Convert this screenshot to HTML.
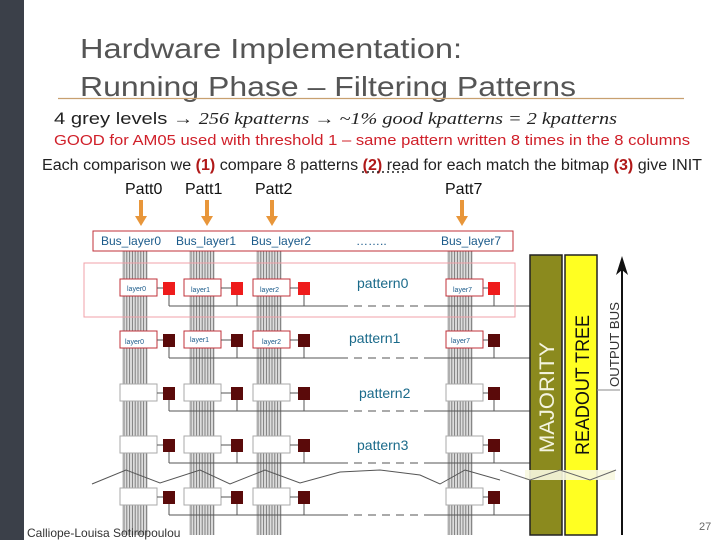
<!DOCTYPE html>
<html><head><meta charset="utf-8"><style>
body{margin:0;background:#fff;}
svg{display:block;font-family:"Liberation Sans",sans-serif;}
</style></head><body>
<svg id="s" width="720" height="540" viewBox="0 0 720 540" xmlns="http://www.w3.org/2000/svg">
<rect x="0" y="0" width="24" height="540" fill="#3b4049"/>
<text x="80" y="58" font-size="28" fill="#555" textLength="382" lengthAdjust="spacingAndGlyphs">Hardware Implementation:</text>
<text x="80" y="96" font-size="28" fill="#555" textLength="496" lengthAdjust="spacingAndGlyphs">Running Phase – Filtering Patterns</text>
<line x1="58" y1="98.5" x2="684" y2="98.5" stroke="#c8a070" stroke-width="1.2"/>
<text x="54" y="124" font-size="17" fill="#222" textLength="563" lengthAdjust="spacingAndGlyphs">4 grey levels → <tspan font-family="Liberation Serif" font-style="italic">256 kpatterns → ~1% good kpatterns = 2 kpatterns</tspan></text>
<text x="54" y="145" font-size="15" fill="#d0202a" textLength="636" lengthAdjust="spacingAndGlyphs">GOOD for  AM05  used with threshold  1 – same pattern  written 8 times in the 8 columns</text>
<text x="42" y="170" font-size="15.5" fill="#222" textLength="660" lengthAdjust="spacingAndGlyphs">Each comparison we <tspan fill="#b01818" font-weight="bold">(1)</tspan> compare 8 patterns  <tspan fill="#b01818" font-weight="bold">(2)</tspan> read for each match the bitmap <tspan fill="#b01818" font-weight="bold">(3)</tspan> give INIT</text>
<line x1="362" y1="172" x2="404" y2="172" stroke="#222" stroke-dasharray="2,3" stroke-width="1.5"/>
<g font-size="16" fill="#111"><text x="125" y="194">Patt0</text><text x="185" y="194">Patt1</text><text x="255" y="194">Patt2</text><text x="445" y="194">Patt7</text></g>
<g id="g"></g>
<rect x="93" y="231" width="420" height="20" fill="none" stroke="#c0303a" stroke-width="1"/>
<g font-size="12" fill="#1a5a8a"><text x="101" y="245">Bus_layer0</text><text x="176" y="245">Bus_layer1</text><text x="251" y="245">Bus_layer2</text><text x="356" y="245">……..</text><text x="441" y="245">Bus_layer7</text></g>
<rect x="84" y="263" width="431" height="54" fill="none" stroke="#f0a0a8" stroke-width="1"/>
<g font-size="7" fill="#1a5a8a">
<text x="127" y="291">layer0</text><text x="191" y="292">layer1</text><text x="260" y="292">layer2</text><text x="453" y="292">layer7</text>
<text x="125" y="344">layer0</text><text x="190" y="342">layer1</text><text x="262" y="344">layer2</text><text x="451" y="343">layer7</text>
</g>
<g font-size="14" fill="#1a6a8a"><text x="357" y="288">pattern0</text><text x="349" y="343">pattern1</text><text x="359" y="398">pattern2</text><text x="357" y="450">pattern3</text></g>
<rect x="530" y="255" width="32" height="280" fill="#8b8a1e" stroke="#222" stroke-width="1.5"/>
<rect x="565" y="255" width="32" height="280" fill="#ffff22" stroke="#222" stroke-width="1.5"/>
<rect x="525" y="470" width="90" height="10" fill="#f8f8e0" opacity="0.9"/>
<polyline points="500,470 530,480 560,470 590,480 616,470" fill="none" stroke="#666"/>
<text transform="translate(554,453) rotate(-90)" font-size="21" fill="#f4f4e0" textLength="111" lengthAdjust="spacingAndGlyphs">MAJORITY</text>
<text transform="translate(589,455) rotate(-90)" font-size="19" fill="#111" textLength="140" lengthAdjust="spacingAndGlyphs">READOUT TREE</text>
<line x1="622" y1="535" x2="622" y2="268" stroke="#111" stroke-width="2"/>
<polygon points="622,256 616,275 622,270 628,275" fill="#111"/>
<text transform="translate(619,387) rotate(-90)" font-size="13" fill="#333" textLength="85" lengthAdjust="spacingAndGlyphs">OUTPUT BUS</text>
<line x1="597" y1="390" x2="620" y2="390" stroke="#888"/>
<text x="27" y="537" font-size="12" fill="#333">Calliope-Louisa Sotiropoulou</text>
<text x="699" y="530" font-size="11" fill="#666">27</text>
</svg>
<script>
var g=document.getElementById('g'),ns='http://www.w3.org/2000/svg';
function e(t,a){var n=document.createElementNS(ns,t);for(var k in a)n.setAttribute(k,a[k]);g.appendChild(n);return n;}
var cols=[122,189,256,447];
cols.forEach(function(x){e('rect',{x:x,y:251,width:26,height:284,fill:'#ddd'});for(var i=0;i<9;i++)e('line',{x1:x+2+i*2.8,y1:251,x2:x+2+i*2.8,y2:535,stroke:'#777','stroke-width':0.9});});
[141,207,272,462].forEach(function(x){e('rect',{x:x-2,y:200,width:4,height:16,fill:'#e8963a'});e('polygon',{points:(x-6)+',216 '+(x+6)+',216 '+x+',226',fill:'#e8963a'});});
var rows=[288,340,393,445,497],bx=[120,184,253,446],ff=[163,231,298,488];
rows.forEach(function(y,r){
 var ly=y+18;
 e('line',{x1:169,y1:ly,x2:340,y2:ly,stroke:'#555'});
 e('line',{x1:340,y1:ly,x2:430,y2:ly,stroke:'#555','stroke-dasharray':'8,6'});
 e('line',{x1:430,y1:ly,x2:530,y2:ly,stroke:'#555'});
 bx.forEach(function(x,i){
  e('rect',{x:x,y:y-9,width:37,height:17,fill:'#fff',stroke:r<2?'#c0303a':'#aaa'});
  e('line',{x1:x+37,y1:y,x2:ff[i],y2:y,stroke:'#555'});
  e('rect',{x:ff[i],y:y-6,width:12,height:13,fill:r==0?'#ee1c1c':'#5a0a0a'});
  e('line',{x1:ff[i]+6,y1:y+7,x2:ff[i]+6,y2:ly,stroke:'#555'});
 });
});
e('polyline',{points:'92,484 126,470 160,483 200,470 230,484 265,470 300,483 340,472 380,470 420,475 440,484 465,470 500,480',fill:'none',stroke:'#555'});
</script>
</body></html>
